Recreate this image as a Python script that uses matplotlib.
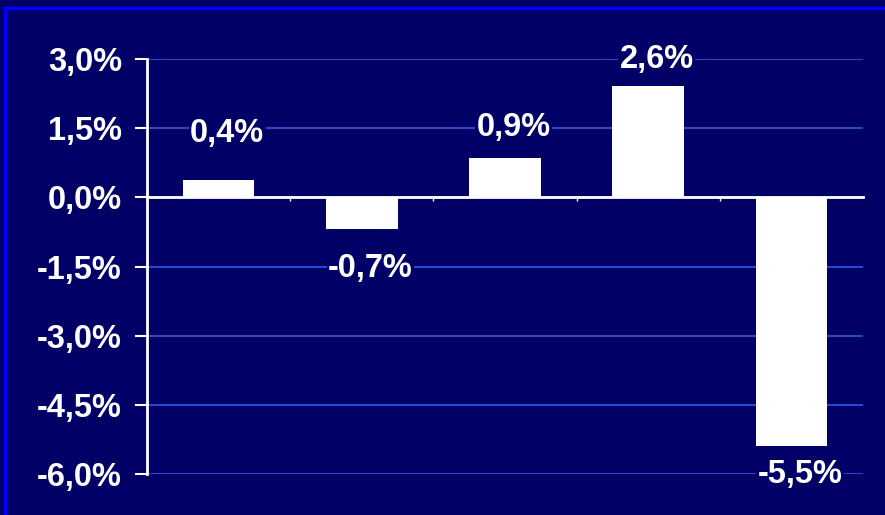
import matplotlib.pyplot as plt
from matplotlib.patches import Rectangle

# data
categories = ['A', 'B', 'C', 'D', 'E']
values = [0.37, -0.69, 0.85, 2.41, -5.4]
labels = ['0,4%', '-0,7%', '0,9%', '2,6%', '-5,5%']
label_y = [1.39, -1.54, 1.52, 3.0, -6.0]
yticks = [3.0, 1.5, 0.0, -1.5, -3.0, -4.5, -6.0]
ytick_labels = ['3,0%', '1,5%', '0,0%', '-1,5%', '-3,0%', '-4,5%', '-6,0%']

navy = '#000066'
plt.rcParams['font.family'] = ['Liberation Sans', 'DejaVu Sans']

fig = plt.figure(figsize=(8.85, 5.15), dpi=100, facecolor=navy)
ax = fig.add_axes([147 / 885, 1 - 474 / 515, (863 - 147) / 885, (474 - 59) / 515])
ax.set_facecolor(navy)

# blue frame round the slide
fig.patches.append(Rectangle((5 / 885, -0.1), 1.2, (515 - 8) / 515 + 0.1,
                             transform=fig.transFigure, fill=False,
                             edgecolor='#0000ff', linewidth=2.5))

x = list(range(len(categories)))
ax.bar(x, values, width=0.5, color='white', zorder=3)
ax.set_xlim(-0.5, len(categories) - 0.5)
ax.set_ylim(-6.0, 3.0)

ax.set_yticks(yticks)
ax.set_yticklabels(ytick_labels, color='white', fontsize=23.5, fontweight='bold')
ax.tick_params(axis='y', length=9, width=1.5, color='white', pad=9)
ax.yaxis.grid(True, color='#3355dd', linewidth=1.2, zorder=0)

# zero line with marks between categories
ax.spines['bottom'].set_position(('data', 0))
ax.spines['bottom'].set_color('white')
ax.spines['bottom'].set_linewidth(2)
ax.spines['bottom'].set_zorder(4)
ax.set_xticks([i + 0.5 for i in x[:-1]])
ax.set_xticklabels([])
ax.tick_params(axis='x', length=3, width=1, color='white', direction='out')

ax.spines['left'].set_color('white')
ax.spines['left'].set_linewidth(2)
ax.spines['top'].set_visible(False)
ax.spines['right'].set_visible(False)
ax.set_axisbelow(True)

for xi, lab, ly in zip(x, labels, label_y):
    ax.text(xi + 0.06, ly, lab, ha='center', va='center', color='white',
            fontsize=23.5, fontweight='bold', zorder=5,
            bbox=dict(facecolor=navy, edgecolor='none', pad=1))

fig.savefig('out.png', dpi=100, facecolor=navy)
